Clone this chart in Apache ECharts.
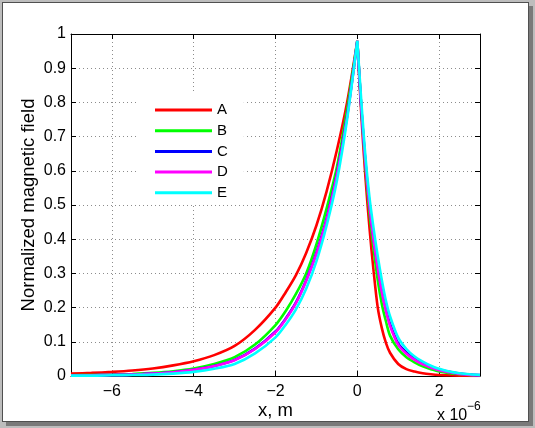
<!DOCTYPE html>
<html><head><meta charset="utf-8">
<script src="https://cdn.jsdelivr.net/npm/echarts@6/dist/echarts.min.js"></script>
<style>
html,body{margin:0;padding:0;width:535px;height:428px;background:#bdbdbd;overflow:hidden;}
#panel{position:absolute;left:2px;top:2px;width:527px;height:420px;box-sizing:border-box;background:#fff;border:1px solid #505050;box-shadow:4px 4px 0 #7a7a7a;}
#chart{position:absolute;left:0;top:0;width:535px;height:428px;}
</style></head><body><div id="panel"></div><div id="chart"></div>
<script>
// x positions in units of 1e-6 m
const xValues = [-7,-6.5,-6,-5.5,-5,-4.5,-4,-3.5,-3,-2.5,-2,-1.75,-1.5,-1.25,-1,-0.75,-0.5,-0.25,0,0.1,0.2,0.3,0.4,0.5,0.6,0.7,0.8,1.0,1.2,1.4,1.6,1.8,2.0,2.25,2.5,2.75,3.0];
const seriesNames = ['A','B','C','D','E'];
const valuesA = [0.007,0.009,0.012,0.016,0.022,0.031,0.043,0.061,0.088,0.135,0.2,0.245,0.295,0.36,0.44,0.54,0.66,0.80,0.98,
  0.76,0.58,0.43,0.305,0.2,0.14,0.097,0.068,0.035,0.02,0.013,0.008,0.005,0.003,0.002,0.001,0.0005,0.0003];
const valuesB = [0.002,0.003,0.004,0.006,0.009,0.014,0.022,0.035,0.055,0.092,0.149,0.19,0.24,0.30,0.385,0.49,0.61,0.78,0.98,
  0.78,0.61,0.475,0.37,0.28,0.21,0.16,0.118,0.078,0.055,0.04,0.028,0.02,0.013,0.008,0.005,0.003,0.002];
const valuesC = [0.001,0.002,0.003,0.004,0.007,0.011,0.018,0.029,0.047,0.08,0.13,0.168,0.215,0.28,0.36,0.46,0.59,0.76,0.98,
  0.78,0.625,0.50,0.40,0.32,0.25,0.195,0.152,0.095,0.069,0.05,0.037,0.027,0.019,0.012,0.007,0.004,0.0025];
const valuesD = [0.001,0.002,0.003,0.004,0.007,0.011,0.018,0.029,0.046,0.079,0.128,0.166,0.213,0.278,0.357,0.457,0.587,0.757,0.98,
  0.78,0.62,0.495,0.395,0.315,0.245,0.19,0.147,0.091,0.065,0.047,0.034,0.025,0.017,0.011,0.006,0.003,0.002];
const valuesE = [0.001,0.001,0.002,0.003,0.004,0.007,0.012,0.021,0.035,0.066,0.113,0.15,0.195,0.255,0.335,0.44,0.57,0.75,0.98,
  0.80,0.64,0.52,0.43,0.35,0.28,0.22,0.175,0.112,0.079,0.057,0.042,0.03,0.021,0.013,0.008,0.005,0.003];
const seriesValues = [valuesA,valuesB,valuesC,valuesD,valuesE];
const seriesColors = ['#ff0000','#00ff00','#0000ff','#ff00ff','#00ffff'];
const xTitle = 'x, m';
const yTitle = 'Normalized magnetic field';
const xScaleBase = 'x 10';
const xScaleExp = '\u22126';

const FONT = 'Liberation Sans, Arial, Helvetica, sans-serif';
const fmtX = v => (v < 0 ? '\u2212' : '') + Math.abs(v);

const chart = echarts.init(document.getElementById('chart'), null, {renderer:'canvas'});
const tickStyle = {color:'#000', width:1};
const gridLine = {show:true, lineStyle:{type:[1,3], color:'#8c8c8c', width:1}};

// each curve is drawn as two smoothed halves meeting at the peak (same legend name)
const series = [];
seriesNames.forEach((n,i)=>{
  const pts = xValues.map((x,k)=>[x, seriesValues[i][k]]);
  [pts.filter(p=>p[0] <= 0), pts.filter(p=>p[0] >= 0)].forEach(half=>{
    series.push({
      name:n, type:'line', xAxisIndex:0, yAxisIndex:0,
      showSymbol:false, symbol:'none', smooth:0.3,
      color:seriesColors[i],
      lineStyle:{width:2.6, color:seriesColors[i]},
      data:half
    });
  });
});

chart.setOption({
  animation:false,
  grid:{left:71, right:55, top:34, bottom:52},
  xAxis:[{
    type:'value', min:-7, max:3, splitNumber:5, position:'bottom',
    axisLine:{show:true, onZero:false, lineStyle:tickStyle},
    axisTick:{show:true, inside:true, length:5, lineStyle:tickStyle},
    axisLabel:{formatter:fmtX, margin:8, color:'#000', fontSize:16, fontFamily:FONT, showMinLabel:false, showMaxLabel:false},
    splitLine:gridLine,
    name:xTitle, nameLocation:'middle', nameGap:25, nameMoveOverlap:false,
    nameTextStyle:{color:'#000', fontSize:18.5, fontFamily:FONT}
  },{
    type:'value', min:-7, max:3, splitNumber:5, position:'top',
    axisLine:{show:true, onZero:false, lineStyle:tickStyle},
    axisTick:{show:true, inside:true, length:5, lineStyle:tickStyle},
    axisLabel:{show:false}, splitLine:{show:false}
  }],
  yAxis:[{
    type:'value', min:0, max:1, interval:0.1, position:'left',
    axisLine:{show:true, onZero:false, lineStyle:tickStyle},
    axisTick:{show:true, inside:true, length:5, lineStyle:tickStyle},
    axisLabel:{margin:5, color:'#000', fontSize:16, fontFamily:FONT},
    splitLine:gridLine,
    name:yTitle, nameLocation:'middle', nameRotate:90, nameGap:33, nameMoveOverlap:false,
    nameTextStyle:{color:'#000', fontSize:18.5, fontFamily:FONT}
  },{
    type:'value', min:0, max:1, interval:0.1, position:'right',
    axisLine:{show:true, onZero:false, lineStyle:tickStyle},
    axisTick:{show:true, inside:true, length:5, lineStyle:tickStyle},
    axisLabel:{show:false}, splitLine:{show:false}
  }],
  legend:{
    orient:'vertical', left:138, top:93, padding:[9,16,4,17],
    backgroundColor:'#fff', borderWidth:0, icon:'rect',
    itemWidth:57, itemHeight:3, itemGap:4.7, selectedMode:false,
    textStyle:{fontSize:15, fontFamily:FONT, color:'#000', lineHeight:16},
    data:seriesNames
  },
  graphic:[
    {type:'text', left:437, top:408, style:{text:xScaleBase, fontSize:16, fontFamily:FONT, fill:'#000'}},
    {type:'text', left:467, top:401, style:{text:xScaleExp, fontSize:12, fontFamily:FONT, fill:'#000'}}
  ],
  series: series
});
</script></body></html>
